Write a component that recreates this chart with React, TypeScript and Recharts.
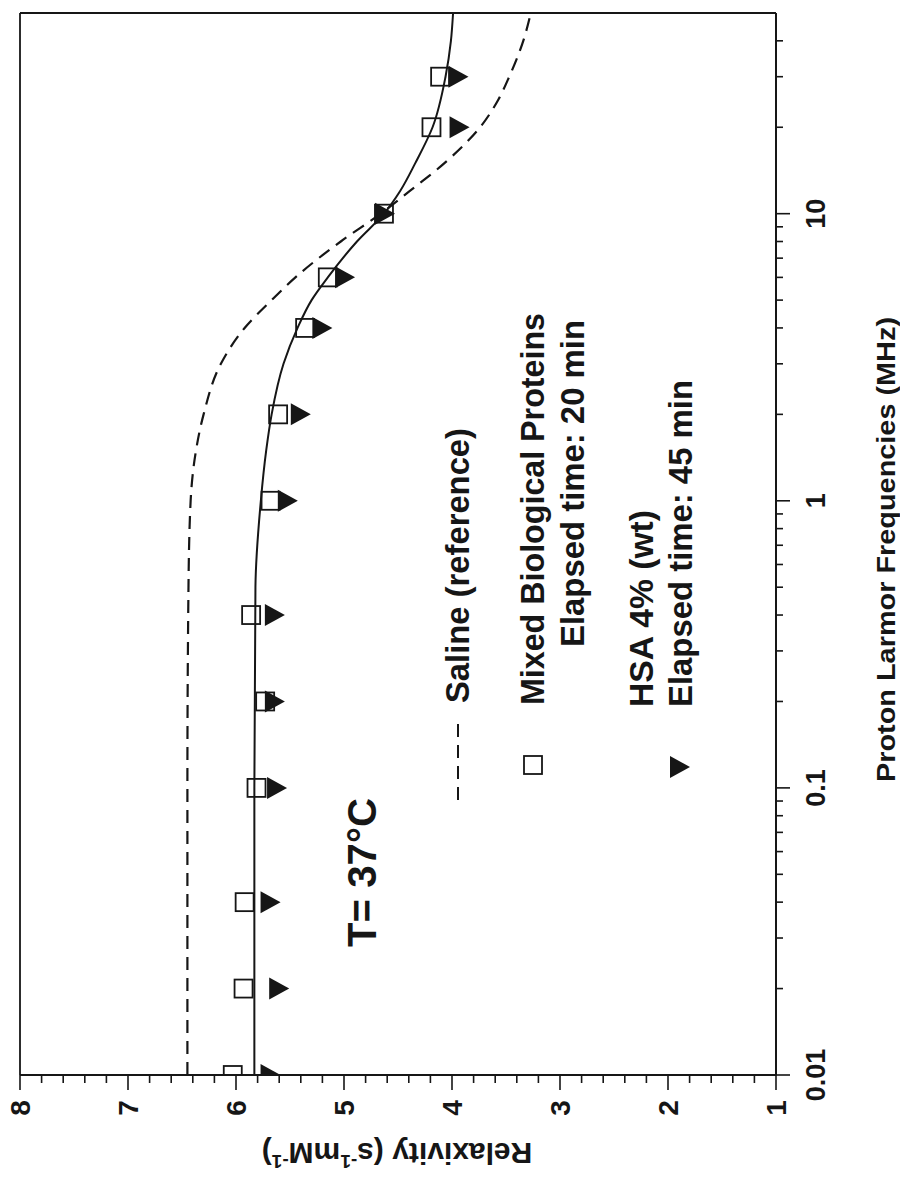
import React from 'react';
import { ComposedChart, Line, Scatter, XAxis, YAxis, Legend, ReferenceLine } from 'recharts';

// fitted curves (MHz vs relaxivity)
const salineFreq = [0.01, 0.1, 0.5, 1, 1.5, 2, 3, 4, 5, 6, 8, 10, 12, 15, 20, 25, 30, 40, 50];
const salineRelax = [6.45, 6.45, 6.44, 6.42, 6.37, 6.3, 6.14, 5.92, 5.67, 5.45, 5.03, 4.66, 4.39, 4.07, 3.74, 3.57, 3.47, 3.34, 3.27];
const fitFreq = [0.01, 0.1, 0.5, 1, 1.5, 2, 3, 4, 5, 6, 8, 10, 12, 15, 20, 30, 40, 50];
const fitRelax = [5.83, 5.83, 5.82, 5.77, 5.72, 5.67, 5.56, 5.43, 5.3, 5.15, 4.88, 4.63, 4.48, 4.34, 4.18, 4.06, 4.01, 3.99];

// measured points
const sampleFreq = [0.01, 0.02, 0.04, 0.1, 0.2, 0.4, 1, 2, 4, 6, 10, 20, 30];
const mixedRelax = [6.03, 5.93, 5.92, 5.81, 5.73, 5.86, 5.68, 5.61, 5.36, 5.15, 4.63, 4.19, 4.11];
const hsaRelax = [5.68, 5.6, 5.68, 5.62, 5.64, 5.64, 5.52, 5.4, 5.2, 4.99, 4.62, 3.93, 3.94];

// axes
const freqTicks = [
  0.01, 0.02, 0.03, 0.04, 0.05, 0.06, 0.07, 0.08, 0.09,
  0.1, 0.2, 0.3, 0.4, 0.5, 0.6, 0.7, 0.8, 0.9,
  1, 2, 3, 4, 5, 6, 7, 8, 9,
  10, 20, 30, 40,
];
const majorFreq = [0.01, 0.1, 1, 10];
const freqLabels = ['0.01', '0.1', '1', '10'];
const relaxTicks = [
  1, 1.2, 1.4, 1.6, 1.8, 2, 2.2, 2.4, 2.6, 2.8, 3, 3.2, 3.4, 3.6, 3.8, 4,
  4.2, 4.4, 4.6, 4.8, 5, 5.2, 5.4, 5.6, 5.8, 6, 6.2, 6.4, 6.6, 6.8, 7, 7.2, 7.4, 7.6, 7.8, 8,
];

const seriesNames = ['Saline (reference)', 'Mixed Biological Proteins', 'HSA 4% (wt)'];
const elapsedNotes = ['Elapsed time: 20 min', 'Elapsed time: 45 min'];
const tempNote = 'T= 37°C';
const xTitle = 'Proton Larmor Frequencies (MHz)';

const salineData = salineFreq.map((f, i) => ({ f, v: salineRelax[i] }));
const fitData = fitFreq.map((f, i) => ({ f, v: fitRelax[i] }));
const mixedData = sampleFreq.map((f, i) => ({ f, v: mixedRelax[i] }));
const hsaData = sampleFreq.map((f, i) => ({ f, v: hsaRelax[i] }));

const FONT = '"Liberation Sans", Arial, Helvetica, sans-serif';
const INK = '#161616';

const FreqTick = (props: any) => {
  const { x, y, payload } = props;
  const idx = majorFreq.indexOf(payload.value);
  const major = idx >= 0;
  return (
    <g>
      <line x1={x} y1={y} x2={x} y2={y + (major ? 14 : 7)} stroke={INK} strokeWidth={1.6} />
      {major && (
        <text x={x} y={y + 49} textAnchor="middle" fontSize={27} fontWeight="bold" fontFamily={FONT} fill={INK}>
          {freqLabels[idx]}
        </text>
      )}
    </g>
  );
};

const RelaxTick = (props: any) => {
  const { x, y, payload } = props;
  const v = payload.value;
  const major = Math.abs(v - Math.round(v)) < 1e-6;
  return (
    <g>
      <line x1={x} y1={y} x2={x - (major ? 15 : 8)} y2={y} stroke={INK} strokeWidth={1.6} />
      {major && (
        <text x={x - 33} y={y + 10} textAnchor="middle" fontSize={28} fontWeight="bold" fontFamily={FONT} fill={INK}>
          {Math.round(v)}
        </text>
      )}
    </g>
  );
};

const OpenSquare = (props: any) => {
  const { cx, cy } = props;
  return <rect x={cx - 9} y={cy - 9} width={18} height={18} fill="none" stroke={INK} strokeWidth={1.8} />;
};

const DownTriangle = (props: any) => {
  const { cx, cy } = props;
  return <polygon points={`${cx - 11},${cy - 10} ${cx + 11},${cy - 10} ${cx},${cy + 10}`} fill={INK} />;
};

const txt = { fontFamily: FONT, fontWeight: 'bold' as const, fill: INK };

const Overlay = () => (
  <svg width={1178} height={900} style={{ display: 'block' }}>
    {/* legend */}
    <line x1={378} y1={458} x2={455} y2={458} stroke={INK} strokeWidth={2} strokeDasharray="13 8" />
    <text x={475} y={469} fontSize={34} textLength={275} lengthAdjust="spacingAndGlyphs" {...txt}>{seriesNames[0]}</text>
    <rect x={404} y={524} width={18} height={18} fill="none" stroke={INK} strokeWidth={1.8} />
    <text x={473} y={544} fontSize={34} textLength={392} lengthAdjust="spacingAndGlyphs" {...txt}>{seriesNames[1]}</text>
    <text x={531} y={584} fontSize={34} textLength={327} lengthAdjust="spacingAndGlyphs" {...txt}>{elapsedNotes[0]}</text>
    <polygon points="400,670 422,670 411,690" fill={INK} />
    <text x={471} y={653} fontSize={34} textLength={197} lengthAdjust="spacingAndGlyphs" {...txt}>{seriesNames[2]}</text>
    <text x={471} y={692} fontSize={34} textLength={327} lengthAdjust="spacingAndGlyphs" {...txt}>{elapsedNotes[1]}</text>
    {/* temperature note */}
    <text x={231} y={376} fontSize={40} textLength={149} lengthAdjust="spacingAndGlyphs" {...txt}>{tempNote}</text>
    {/* axis titles */}
    <text x={396} y={895} fontSize={26} textLength={465} lengthAdjust="spacingAndGlyphs" {...txt}>{xTitle}</text>
    <text x={35} y={397} fontSize={30} textAnchor="middle" transform="rotate(-90, 35, 397)" {...txt}>
      Relaxivity (s<tspan fontSize={19} dy={-12}>-1</tspan>
      <tspan dy={12}>mM</tspan>
      <tspan fontSize={19} dy={-12}>-1</tspan>
      <tspan dy={12}>)</tspan>
    </text>
  </svg>
);

export default function App() {
  return (
    <div style={{ position: 'absolute', left: 0, top: 0, width: 900, height: 1178, overflow: 'hidden', background: '#fff' }}>
      <div
        style={{
          position: 'absolute',
          left: 0,
          top: 0,
          width: 1178,
          height: 900,
          transformOrigin: '0 0',
          transform: 'translate(0px, 1178px) rotate(-90deg)',
        }}
      >
        <ComposedChart width={1178} height={900} margin={{ top: 20, right: 13, bottom: 64, left: 43 }}>
          <XAxis
            type="number"
            dataKey="f"
            scale="log"
            domain={[0.01, 50]}
            allowDataOverflow
            ticks={freqTicks}
            interval={0}
            tick={FreqTick}
            tickLine={false}
            tickSize={0}
            tickMargin={0}
            height={60}
            axisLine={{ stroke: INK, strokeWidth: 2 }}
          />
          <YAxis
            type="number"
            domain={[1, 8]}
            allowDataOverflow
            ticks={relaxTicks}
            interval={0}
            tick={RelaxTick}
            tickLine={false}
            tickSize={0}
            tickMargin={0}
            width={60}
            axisLine={{ stroke: INK, strokeWidth: 2 }}
          />
          <ReferenceLine y={8} stroke={INK} strokeWidth={1.8} />
          <ReferenceLine x={50} stroke={INK} strokeWidth={1.8} />
          <Line data={salineData} dataKey="v" type="monotone" stroke={INK} strokeWidth={2.2} strokeDasharray="13 8" dot={false} isAnimationActive={false} />
          <Line data={fitData} dataKey="v" type="monotone" stroke={INK} strokeWidth={2} dot={false} isAnimationActive={false} />
          <Scatter data={mixedData} dataKey="v" shape={OpenSquare} isAnimationActive={false} />
          <Scatter data={hsaData} dataKey="v" shape={DownTriangle} isAnimationActive={false} />
          <Legend
            layout="vertical"
            align="center"
            verticalAlign="middle"
            content={() => <Overlay />}
            wrapperStyle={{ position: 'absolute', left: 0, top: 0, width: 1178, height: 900, pointerEvents: 'none' }}
          />
        </ComposedChart>
      </div>
    </div>
  );
}
